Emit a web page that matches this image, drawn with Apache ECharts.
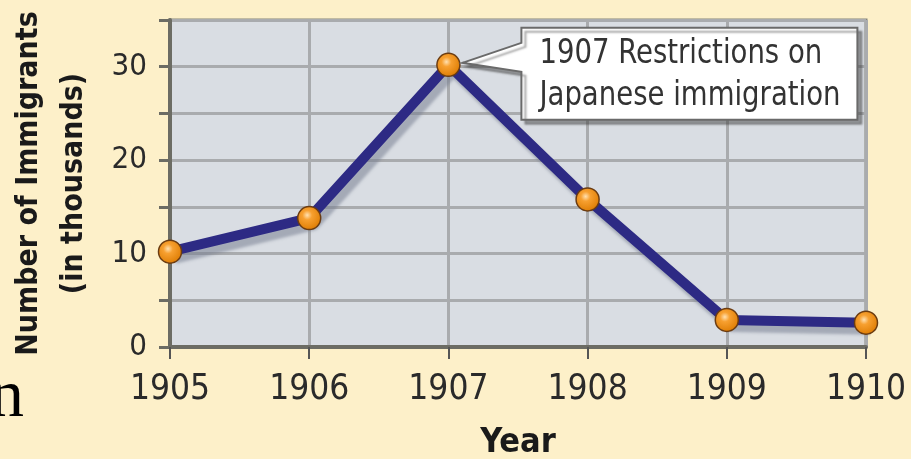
<!DOCTYPE html>
<html>
<head>
<meta charset="utf-8">
<script src="https://cdn.jsdelivr.net/npm/echarts@6/dist/echarts.min.js"></script>
<style>
html,body{margin:0;padding:0;background:#fdf0c9;}
#chart{width:911px;height:459px;}
</style>
</head>
<body>
<div id="chart"></div>
<script>
const years = ['1905', '1906', '1907', '1908', '1909', '1910'];
const immigrants = [10.2, 13.8, 30.2, 15.8, 2.9, 2.6];
const yTicks = [0, 10, 20, 30];
const calloutLines = ['1907 Restrictions on', 'Japanese immigration'];
const calloutYear = '1907';
const yAxisTitle = ['Number of Immigrants', '(in thousands)'];
const xAxisTitle = 'Year';

const narrow = '"Liberation Sans Narrow", "DejaVu Sans Condensed", Arial, sans-serif';

const chart = echarts.init(document.getElementById('chart'), null, {renderer: 'canvas'});

const option = {
  backgroundColor: '#fdf0c9',
  animation: false,
  grid: {
    left: 170, right: 45, top: 20, bottom: 112,
    containLabel: false,
    outerBoundsMode: 'none',
    show: true,
    backgroundColor: '#d9dde3',
    borderColor: '#85857c',
    borderWidth: 3
  },
  xAxis: {
    type: 'category',
    data: years,
    boundaryGap: false,
    name: xAxisTitle,
    nameLocation: 'middle',
    nameGap: 79,
    nameTextStyle: {fontFamily: narrow, fontWeight: 'bold', fontSize: 34, color: '#1a1a1a'},
    axisLine: {show: true, lineStyle: {color: '#6c6c64', width: 4}},
    axisTick: {show: true, alignWithLabel: true, length: 12, lineStyle: {color: '#555', width: 2}},
    axisLabel: {fontFamily: narrow, fontSize: 35, color: '#2a2a2a', margin: 25},
    splitLine: {show: true, lineStyle: {color: '#a9abae', width: 3}}
  },
  yAxis: {
    type: 'value',
    min: 0, max: 35, interval: 5,
    name: yAxisTitle.join('\n'),
    nameLocation: 'middle',
    nameGap: 73,
    nameTextStyle: {fontFamily: narrow, fontWeight: 'bold', fontSize: 30, color: '#1a1a1a', lineHeight: 45, align: 'center'},
    axisLine: {show: true, lineStyle: {color: '#6c6c64', width: 4}},
    axisTick: {show: true, length: 11, lineStyle: {color: '#6c6c64', width: 3}},
    axisLabel: {
      fontFamily: narrow, fontSize: 31, color: '#2a2a2a', margin: 23,
      formatter: v => (yTicks.indexOf(v) >= 0 ? String(v) : '')
    },
    splitLine: {show: true, lineStyle: {color: '#a9abae', width: 3}}
  },
  series: [{
    type: 'line',
    data: immigrants,
    symbol: 'circle',
    symbolSize: 23,
    lineStyle: {
      color: '#2d2a84', width: 10,
      shadowColor: 'rgba(120,128,145,0.55)', shadowBlur: 3, shadowOffsetX: 5, shadowOffsetY: 7
    },
    itemStyle: {
      color: {
        type: 'radial', x: 0.42, y: 0.38, r: 0.65,
        colorStops: [
          {offset: 0, color: '#ffe0b0'},
          {offset: 0.3, color: '#f7a030'},
          {offset: 1, color: '#dc7a00'}
        ]
      },
      borderColor: '#6b3c12', borderWidth: 1.5
    },
    z: 3
  }]
};
chart.setOption(option);

// callout anchored to the 1907 data point
const idx = years.indexOf(calloutYear);
const p = chart.convertToPixel({seriesIndex: 0}, [idx, immigrants[idx]]);
const bl = p[0] + 73, bt = p[1] - 37, br = p[0] + 409, bb = p[1] + 55;
chart.setOption({
  graphic: [
    {
      type: 'polygon',
      z: 10,
      shape: {points: [
        [p[0] + 14, p[1] - 2], [bl, bt + 15], [bl, bt], [br, bt], [br, bb], [bl, bb], [bl, bt + 44]
      ]},
      style: {
        fill: '#ffffff', stroke: '#6a6a6a', lineWidth: 2,
        shadowColor: 'rgba(60,60,60,0.45)', shadowBlur: 2, shadowOffsetX: 4, shadowOffsetY: 4
      }
    },
    {
      type: 'text',
      z: 11,
      x: bl + 18,
      y: (bt + bb) / 2 + 1,
      scaleX: 0.9,
      style: {
        text: calloutLines.join('\n'),
        font: '34px ' + narrow,
        fill: '#333333',
        lineHeight: 42,
        align: 'left',
        verticalAlign: 'middle'
      }
    },
    {
      type: 'text',
      z: 11,
      x: 24,
      y: 398,
      style: {
        text: 'n',
        font: '68px "Liberation Serif", "DejaVu Serif", serif',
        fill: '#000000',
        align: 'right',
        verticalAlign: 'middle'
      }
    }
  ]
});
</script>
</body>
</html>
